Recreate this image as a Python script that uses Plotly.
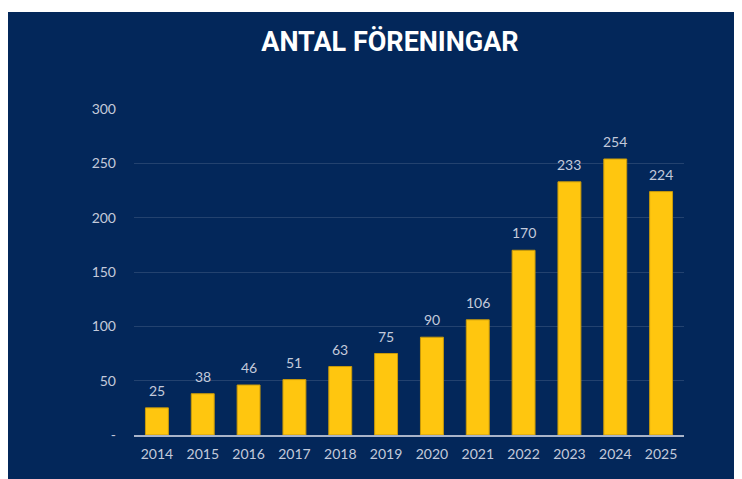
import plotly.graph_objects as go

years = ["2014", "2015", "2016", "2017", "2018", "2019", "2020", "2021", "2022", "2023", "2024", "2025"]
counts = [25, 38, 46, 51, 63, 75, 90, 106, 170, 233, 254, 224]
ytick_vals = [0, 50, 100, 150, 200, 250, 300]
ytick_text = ["-", "50", "100", "150", "200", "250", "300"]
title_text = "ANTAL FÖRENINGAR"

NAVY = "#03275a"
YELLOW = "#ffc60f"
LABEL = "#c3cadb"
FONT = "Lato, Open Sans, sans-serif"

# page adds an 8px body margin, so figure coords = reference coords - 8
W, H = 734, 471
L, R, T, B = 126, 58, 101, 44
pw, ph = W - L - R, H - T - B

def px_x(p):
    return (p - L) / pw

def px_y(p):
    return (H - B - p) / ph

fig = go.Figure()
fig.add_trace(go.Bar(
    x=years, y=counts,
    marker=dict(color=YELLOW, line=dict(color="#c99a0a", width=1)),
    width=0.5,
))

# value labels placed at each category (index on the category axis)
for i, v in enumerate(counts):
    fig.add_annotation(x=i, y=v, text=str(v), showarrow=False,
                       xanchor="center", yanchor="bottom", yshift=7,
                       font=dict(color=LABEL, size=14, family=FONT))

fig.update_layout(
    width=W, height=H,
    margin=dict(l=L, r=R, t=T, b=B),
    paper_bgcolor=NAVY,
    plot_bgcolor=NAVY,
    showlegend=False,
    title=dict(text="<b>" + title_text + "</b>", x=(390 - 8) / W, xanchor="center",
               y=1 - (42 - 8) / H, yanchor="middle",
               font=dict(family="Roboto, Liberation Sans Narrow, sans-serif",
                         size=27, color="white")),
    xaxis=dict(
        type="category", range=[-0.5, len(years) - 0.5],
        showgrid=False, showline=True, linecolor="#a9b4c9", linewidth=2,
        tickfont=dict(color=LABEL, size=14, family=FONT),
        ticks="", ticklabelstandoff=5,
    ),
    yaxis=dict(
        range=[0, 300], tickvals=ytick_vals, ticktext=ytick_text,
        showgrid=True, gridcolor="rgba(255,255,255,0.13)", gridwidth=1,
        zeroline=False, showline=False,
        tickfont=dict(color=LABEL, size=14, family=FONT),
        ticks="", ticklabelstandoff=17,
    ),
    shapes=[
        dict(type="rect", xref="paper", yref="paper", x0=px_x(-5), x1=px_x(W + 5),
             y0=px_y(4), y1=px_y(-5), fillcolor="white", line=dict(width=0), layer="below"),
    ],
)

fig.write_html("out.html")
